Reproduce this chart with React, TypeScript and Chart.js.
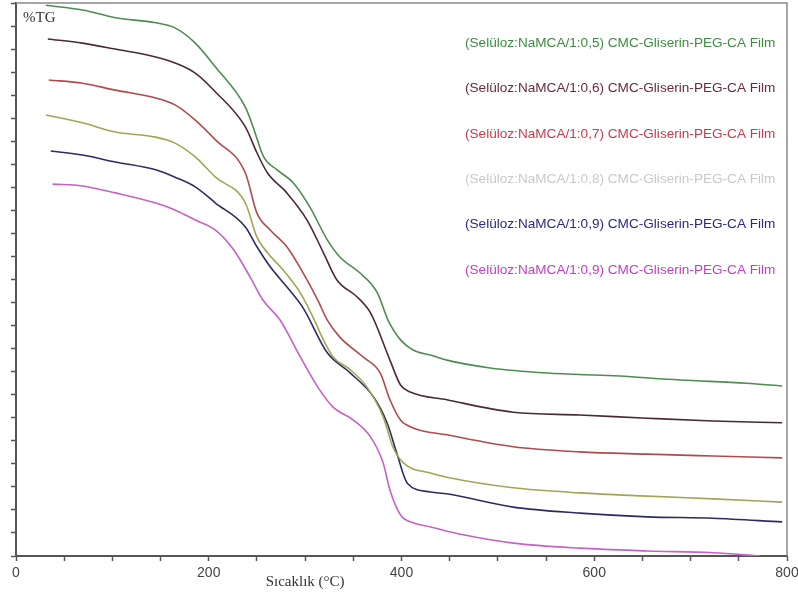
import React, { useEffect, useRef } from "react";
import { Chart, registerables } from "chart.js";

Chart.register(...registerables);

const SERIES_LABELS = [
  "(Selüloz:NaMCA/1:0,5) CMC-Gliserin-PEG-CA Film",
  "(Selüloz:NaMCA/1:0,6) CMC-Gliserin-PEG-CA Film",
  "(Selüloz:NaMCA/1:0,7) CMC-Gliserin-PEG-CA Film",
  "(Selüloz:NaMCA/1:0,8) CMC-Gliserin-PEG-CA Film",
  "(Selüloz:NaMCA/1:0,9) CMC-Gliserin-PEG-CA Film",
  "(Selüloz:NaMCA/1:0,9) CMC-Gliserin-PEG-CA Film",
];
const X_TITLE = "Sıcaklık (°C)";
const Y_TITLE = "%TG";
const X_TICK_LABELS = [0, 200, 400, 600, 800];

// Series 1 (0,5)
const temp05 = [31, 69, 103, 145, 165, 186, 207, 238, 246, 257, 271, 288, 305, 323, 336, 357, 375, 386, 399, 412, 430, 447, 492, 551, 620, 689, 758, 795];
const tg05 = [119.5, 118.5, 116.8, 115.7, 114.6, 111.3, 106.1, 97.4, 93.1, 86.6, 83.8, 80.9, 75.7, 68.6, 64.9, 61.4, 57.1, 51.2, 46.9, 44.7, 43.6, 42.5, 40.8, 39.7, 39.1, 38.2, 37.5, 36.9];
// Series 2 (0,6)
const temp06 = [33, 69, 103, 145, 165, 186, 207, 238, 250, 261, 281, 302, 319, 333, 354, 368, 388, 399, 409, 447, 516, 585, 655, 723, 795];
const tg06 = [112.2, 111.3, 110.0, 108.3, 107.0, 104.8, 100.7, 93.1, 87.5, 83.1, 78.8, 72.9, 65.8, 59.9, 56.2, 52.7, 42.5, 37.1, 35.6, 33.9, 31.2, 30.6, 29.9, 29.3, 28.9];
// Series 3 (0,7)
const temp07 = [34, 69, 103, 145, 165, 186, 207, 238, 250, 264, 281, 298, 313, 323, 336, 360, 378, 388, 399, 412, 447, 516, 585, 655, 723, 795];
const tg07 = [103.3, 102.6, 101.1, 99.4, 97.9, 94.6, 90.3, 83.1, 74.4, 70.7, 67.1, 61.4, 55.6, 51.2, 47.5, 43.2, 39.7, 33.9, 29.5, 27.8, 26.3, 23.7, 22.6, 22.1, 21.7, 21.3];
// Series 4 (0,8)
const temp08 = [31, 69, 103, 145, 165, 186, 207, 238, 250, 261, 277, 295, 308, 319, 329, 347, 364, 381, 391, 402, 430, 447, 516, 585, 655, 723, 795];
const tg08 = [95.7, 94.0, 92.0, 90.9, 89.6, 86.6, 82.2, 76.6, 69.2, 65.8, 62.1, 57.1, 51.9, 46.9, 43.2, 40.4, 36.7, 30.2, 23.7, 20.2, 18.0, 17.1, 14.8, 13.7, 13.0, 12.4, 11.7];
// Series 5 (0,9)
const temp09a = [36, 69, 103, 145, 165, 186, 207, 238, 250, 264, 281, 298, 323, 347, 371, 385, 395, 406, 430, 447, 516, 585, 655, 723, 795];
const tg09a = [87.9, 87.0, 85.5, 83.8, 82.2, 80.1, 76.6, 71.4, 67.1, 62.7, 58.4, 53.8, 44.1, 39.7, 34.5, 28.9, 22.4, 15.8, 13.9, 13.5, 10.6, 9.3, 8.5, 8.2, 7.4];
// Series 6 (0,9)
const temp09b = [38, 69, 103, 145, 165, 186, 207, 226, 243, 256, 274, 295, 313, 329, 350, 368, 381, 388, 399, 412, 430, 464, 516, 585, 655, 723, 772];
const tg09b = [80.7, 80.3, 78.8, 76.6, 75.1, 72.9, 70.7, 66.4, 60.5, 55.6, 51.2, 43.2, 36.7, 32.3, 29.5, 25.8, 20.2, 14.3, 8.9, 7.2, 6.3, 4.6, 2.8, 1.7, 1.1, 0.7, 0];

const LINE_COLORS = ["#4f8c50", "#4a2a38", "#b24a4c", "#a3a554", "#2c2c62", "#c462c6"];
const TEXT_COLORS = ["#3d8d3f", "#6a2a3c", "#c83c4c", "#c9c9c9", "#2a2a82", "#c23fc4"];

const SERIES = [
  [temp05, tg05],
  [temp06, tg06],
  [temp07, tg07],
  [temp08, tg08],
  [temp09a, tg09a],
  [temp09b, tg09b],
];

const annotPlugin = {
  id: "annot",
  afterDraw(chart: any) {
    const { ctx, chartArea: a, scales } = chart;
    const x = scales.x;
    ctx.save();
    // frame top & right
    ctx.strokeStyle = "#8a8a8a";
    ctx.lineWidth = 1.5;
    ctx.beginPath();
    ctx.moveTo(a.left, a.top);
    ctx.lineTo(a.right, a.top);
    ctx.lineTo(a.right, a.bottom);
    ctx.stroke();
    // y title
    ctx.fillStyle = "#333";
    ctx.textBaseline = "middle";
    ctx.textAlign = "left";
    ctx.font = '15px "Liberation Serif", serif';
    ctx.fillText(Y_TITLE, a.left + 7, a.top + 15);
    // x title
    ctx.textAlign = "center";
    ctx.font = '15px "Liberation Serif", serif';
    ctx.fillText(X_TITLE, x.getPixelForValue(300), 582);
    // legend texts
    ctx.textAlign = "left";
    ctx.font = '13.6px "Liberation Sans", Arial, sans-serif';
    SERIES_LABELS.forEach((lab, i) => {
      ctx.fillStyle = TEXT_COLORS[i];
      ctx.fillText(lab, 465, 43 + i * 45.4);
    });
    ctx.restore();
  },
};

export default function App() {
  const ref = useRef<HTMLCanvasElement | null>(null);
  useEffect(() => {
    document.body.style.margin = "0";
    if (!ref.current) return;
    const chart = new Chart(ref.current, {
      type: "line",
      data: {
        datasets: SERIES.map(([xs, ys], i) => ({
          label: SERIES_LABELS[i],
          data: xs.map((v, j) => ({ x: v, y: ys[j] })),
          borderColor: LINE_COLORS[i],
          backgroundColor: LINE_COLORS[i],
          borderWidth: 1.6,
          pointRadius: 0,
          cubicInterpolationMode: "monotone" as const,
          fill: false,
        })),
      },
      options: {
        responsive: false,
        animation: false,
        layout: { padding: { left: 0, top: 3, right: 11, bottom: 0 } },
        plugins: { legend: { display: false }, tooltip: { enabled: false } },
        scales: {
          x: {
            type: "linear",
            min: 0,
            max: 800,
            ticks: {
              stepSize: 50,
              autoSkip: false,
              maxRotation: 0,
              padding: 4,
              color: "#444",
              font: { family: '"Liberation Sans", Arial, sans-serif', size: 14 },
              callback: (v: any) => (X_TICK_LABELS.includes(Number(v)) ? String(v) : ""),
            },
            grid: { drawOnChartArea: false, drawTicks: true, tickLength: 5, tickColor: "#555", tickWidth: 1.5 },
            border: { color: "#555", width: 2 },
            afterFit: (s: any) => {
              s.height = 38;
              s.paddingRight = 0;
              s.paddingLeft = 0;
            },
          },
          y: {
            type: "linear",
            min: 0,
            max: 120,
            ticks: { stepSize: 5, display: false, autoSkip: false },
            grid: { drawOnChartArea: false, drawTicks: true, tickLength: 5, tickColor: "#555", tickWidth: 1.5 },
            border: { color: "#555", width: 2 },
            afterFit: (s: any) => {
              s.width = 16;
              s.paddingTop = 0;
              s.paddingBottom = 0;
            },
          },
        },
      },
      plugins: [annotPlugin],
    });
    return () => chart.destroy();
  }, []);
  return (
    <div style={{ width: 798, height: 594 }}>
      <canvas ref={ref} width={798} height={594} style={{ display: "block" }} />
    </div>
  );
}
